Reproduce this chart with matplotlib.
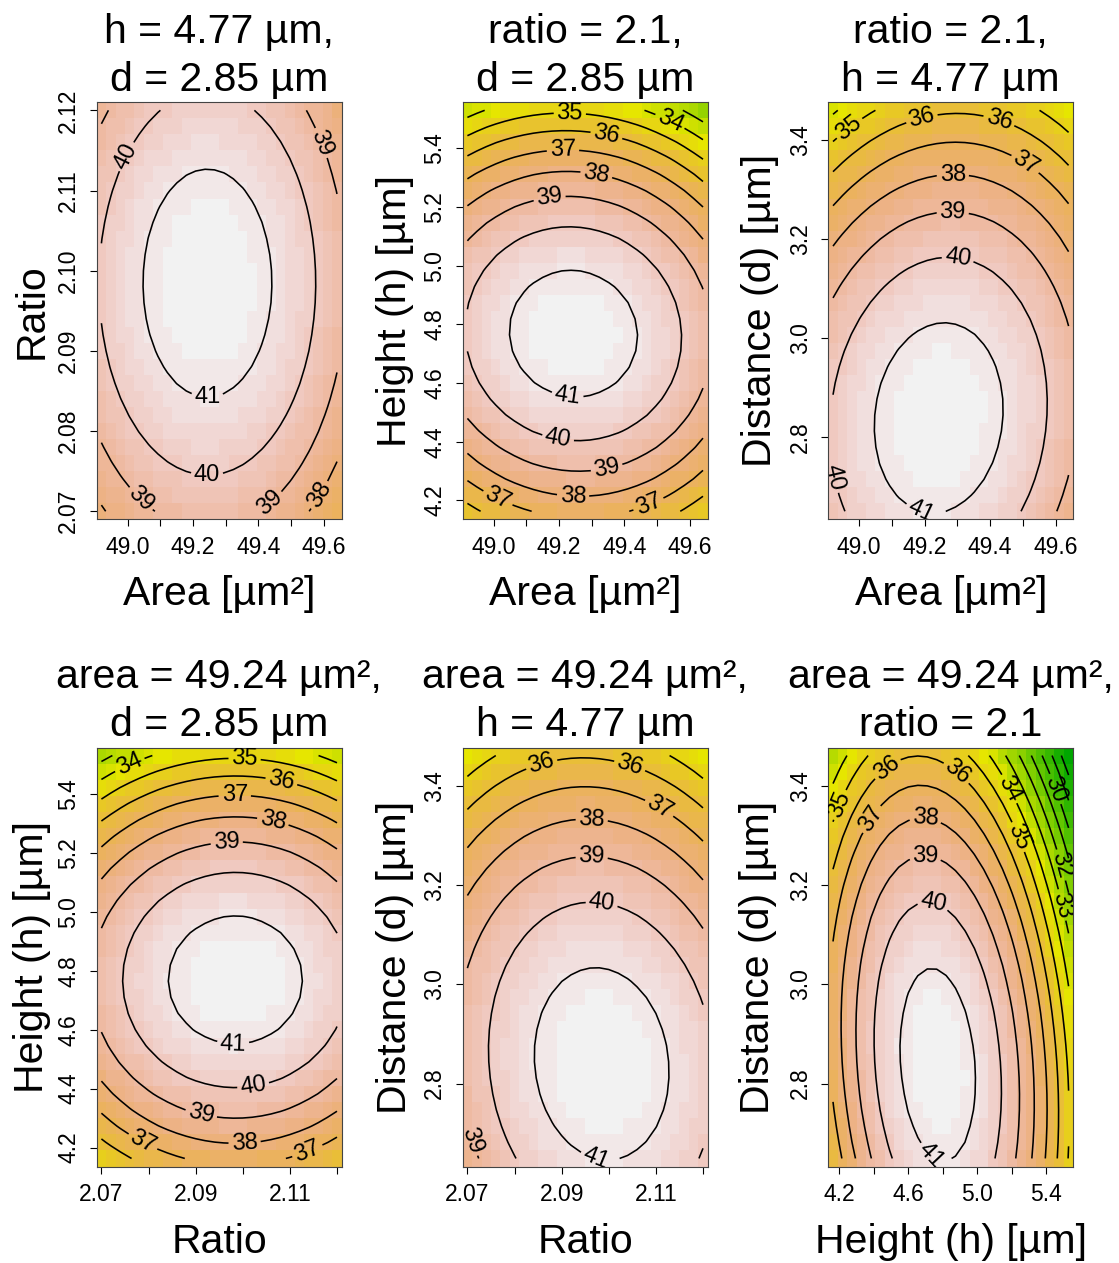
import colorsys

import numpy as np
import matplotlib
matplotlib.use("Agg")
import matplotlib.pyplot as plt
from matplotlib.colors import ListedColormap, BoundaryNorm

plt.rcParams["font.family"] = ["Liberation Sans", "DejaVu Sans"]

# ---- fitted second-order response surface -------------------------------
factor_names = ["area", "ratio", "h", "d"]
factor_centre = [49.243, 2.0985, 4.77, 2.84]
quad_coef = [14.1, 2700.0, 11.56, 14.7]
interaction_pairs = [("area", "h"), ("area", "d"), ("ratio", "d"), ("h", "d")]
interaction_coef = [1.0, -2.6, 35.0, 4.2]
response_peak = 41.55

# plotting grid range of each factor
factor_low = [48.92, 2.070, 4.163, 2.649]
factor_high = [49.64, 2.120, 5.530, 3.461]
grid_n = 26

# values held fixed in each slice
slice_values = {"area": 49.24, "ratio": 2.1, "h": 4.77, "d": 2.85}

axis_titles = {
    "area": "Area [µm²]",
    "ratio": "Ratio",
    "h": "Height (h) [µm]",
    "d": "Distance (d) [µm]",
}

# tick positions and the labels shown on x / y axes
tick_values = {
    "area": [49.0, 49.1, 49.2, 49.3, 49.4, 49.5, 49.6],
    "ratio": [2.07, 2.08, 2.09, 2.10, 2.11, 2.12],
    "h": [4.2, 4.4, 4.6, 4.8, 5.0, 5.2, 5.4],
    "d": [2.8, 3.0, 3.2, 3.4],
}
x_tick_text = {
    "area": ["49.0", "", "49.2", "", "49.4", "", "49.6"],
    "ratio": ["2.07", "", "2.09", "", "2.11", ""],
    "h": ["4.2", "", "4.6", "", "5.0", "", "5.4"],
    "d": ["2.8", "3.0", "3.2", "3.4"],
}
y_tick_text = {
    "area": ["49.0", "49.1", "49.2", "49.3", "49.4", "49.5", "49.6"],
    "ratio": ["2.07", "2.08", "2.09", "2.10", "2.11", "2.12"],
    "h": ["4.2", "4.4", "4.6", "4.8", "5.0", "5.2", "5.4"],
    "d": ["2.8", "3.0", "3.2", "3.4"],
}

panel_x = ["area", "area", "area", "ratio", "ratio", "h"]
panel_y = ["ratio", "h", "d", "h", "d", "d"]
panel_title_1 = ["h = 4.77 µm,", "ratio = 2.1,", "ratio = 2.1,",
                 "area = 49.24 µm²,", "area = 49.24 µm²,", "area = 49.24 µm²,"]
panel_title_2 = ["d = 2.85 µm", "d = 2.85 µm", "h = 4.77 µm",
                 "d = 2.85 µm", "h = 4.77 µm", "ratio = 2.1"]

# where the contour labels sit (data coordinates)
label_spots = [
    [(49.002, 2.1141), (49.59, 2.1159), (49.242, 2.085), (49.242, 2.0752),
     (49.048, 2.0719), (49.426, 2.0715), (49.575, 2.0723)],
    [(49.233, 5.52), (49.539, 5.492), (49.345, 5.446), (49.212, 5.39),
     (49.314, 5.311), (49.171, 5.232), (49.227, 4.564), (49.197, 4.412),
     (49.345, 4.315), (49.243, 4.219), (49.013, 4.208), (49.472, 4.191)],
    [(48.959, 3.434), (49.189, 3.451), (49.429, 3.444), (49.511, 3.356),
     (49.286, 3.336), (49.286, 3.258), (49.302, 3.164), (49.21, 2.659),
     (48.933, 2.719)],
    [(2.076, 5.499), (2.1004, 5.522), (2.1082, 5.443), (2.0983, 5.392),
     (2.1064, 5.307), (2.0966, 5.234), (2.098, 4.558), (2.1022, 4.411),
     (2.0912, 4.316), (2.1004, 4.214), (2.0788, 4.22), (2.1135, 4.198)],
    [(2.0857, 3.445), (2.1045, 3.442), (2.1109, 3.358), (2.0964, 3.334),
     (2.0964, 3.261), (2.0985, 3.163), (2.0981, 2.661), (2.0716, 2.687)],
    [(4.2075, 3.361), (4.478, 3.435), (4.884, 3.428), (4.381, 3.334),
     (4.70, 3.331), (4.70, 3.254), (4.739, 3.153), (4.768, 2.67),
     (5.193, 3.395), (5.261, 3.30), (5.464, 3.395), (5.483, 3.24),
     (5.493, 3.16)],
]

ylabel_offset = [-0.265, -0.276, -0.279, -0.265, -0.276, -0.285]


def response(values):
    """Evaluate the second-order model for a dict of factor arrays."""
    dev = {n: values[n] - c for n, c in zip(factor_names, factor_centre)}
    out = response_peak
    for n, q in zip(factor_names, quad_coef):
        out = out - q * dev[n] ** 2
    for (a, b), k in zip(interaction_pairs, interaction_coef):
        out = out - k * dev[a] * dev[b]
    return out


def terrain_colors(n):
    k = n // 2
    hs = list(np.linspace(4 / 12, 2 / 12, k)) + list(np.linspace(2 / 12, 0, n - k + 1)[1:])
    ss = list(np.linspace(1, 1, k)) + list(np.linspace(1, 0, n - k + 1)[1:])
    vs = list(np.linspace(0.65, 0.9, k)) + list(np.linspace(0.9, 0.95, n - k + 1)[1:])
    return [colorsys.hsv_to_rgb(h, s, v) for h, s, v in zip(hs, ss, vs)]


def factor_grid(name):
    i = factor_names.index(name)
    return np.linspace(factor_low[i], factor_high[i], grid_n)


# evaluate every slice first so all panels share one colour scale
surfaces = []
for xv, yv in zip(panel_x, panel_y):
    xg, yg = factor_grid(xv), factor_grid(yv)
    X, Y = np.meshgrid(xg, yg)
    vals = {n: np.full_like(X, slice_values[n]) for n in factor_names}
    vals[xv] = X
    vals[yv] = Y
    surfaces.append((xg, yg, response(vals)))

zmin = min(s[2].min() for s in surfaces)
zmax = max(s[2].max() for s in surfaces)
n_col = 50
cmap = ListedColormap(terrain_colors(n_col))
norm = BoundaryNorm(np.linspace(zmin, zmax, n_col + 1), n_col)
levels = np.arange(20, 46)

W, H = 1119, 1263
fig = plt.figure(figsize=(W / 100, H / 100), dpi=100)

col_left = [96.7, 462.7, 828.3]
row_top = [102.3, 747.5]
row_height = [417.0, 419.0]
ax_w = 245.0


def edges(g):
    step = g[1] - g[0]
    return np.concatenate([g - step / 2, [g[-1] + step / 2]])


for p in range(6):
    row, col = divmod(p, 3)
    left = col_left[col] / W
    bottom = (H - row_top[row] - row_height[row]) / H
    ax = fig.add_axes([left, bottom, ax_w / W, row_height[row] / H])

    xg, yg, Z = surfaces[p]
    xe, ye = edges(xg), edges(yg)
    ax.pcolormesh(xe, ye, Z, cmap=cmap, norm=norm, shading="flat")
    cs = ax.contour(xg, yg, Z, levels=levels, colors="black", linewidths=1.15)
    ax.set_xlim(xe[0], xe[-1])
    ax.set_ylim(ye[0], ye[-1])
    cs.clabel(manual=label_spots[p], fmt="%d", fontsize=17, inline=True,
              inline_spacing=3)

    xv, yv = panel_x[p], panel_y[p]
    ax.set_xticks(tick_values[xv])
    ax.set_xticklabels(x_tick_text[xv])
    ax.set_yticks(tick_values[yv])
    ax.set_yticklabels(y_tick_text[yv], rotation=90, va="center")
    ax.tick_params(direction="out", length=5, width=0.8, labelsize=16.5,
                   pad=7, top=False, right=False)
    for sp in ax.spines.values():
        sp.set_linewidth(0.8)
        sp.set_color("#444444")

    ax.set_xlabel(axis_titles[xv], fontsize=29.5)
    ax.xaxis.label.set_va("center")
    ax.xaxis.set_label_coords(0.5, -0.18)
    ax.set_ylabel(axis_titles[yv], fontsize=29.5)
    ax.yaxis.label.set_va("center")
    ax.yaxis.set_label_coords(ylabel_offset[p], 0.5)

    ax.text(0.5, 1.143, panel_title_1[p], transform=ax.transAxes,
            ha="center", va="baseline", fontsize=29.5)
    ax.text(0.5, 1.028, panel_title_2[p], transform=ax.transAxes,
            ha="center", va="baseline", fontsize=29.5)

fig.savefig("out.png", dpi=100, facecolor="white")
